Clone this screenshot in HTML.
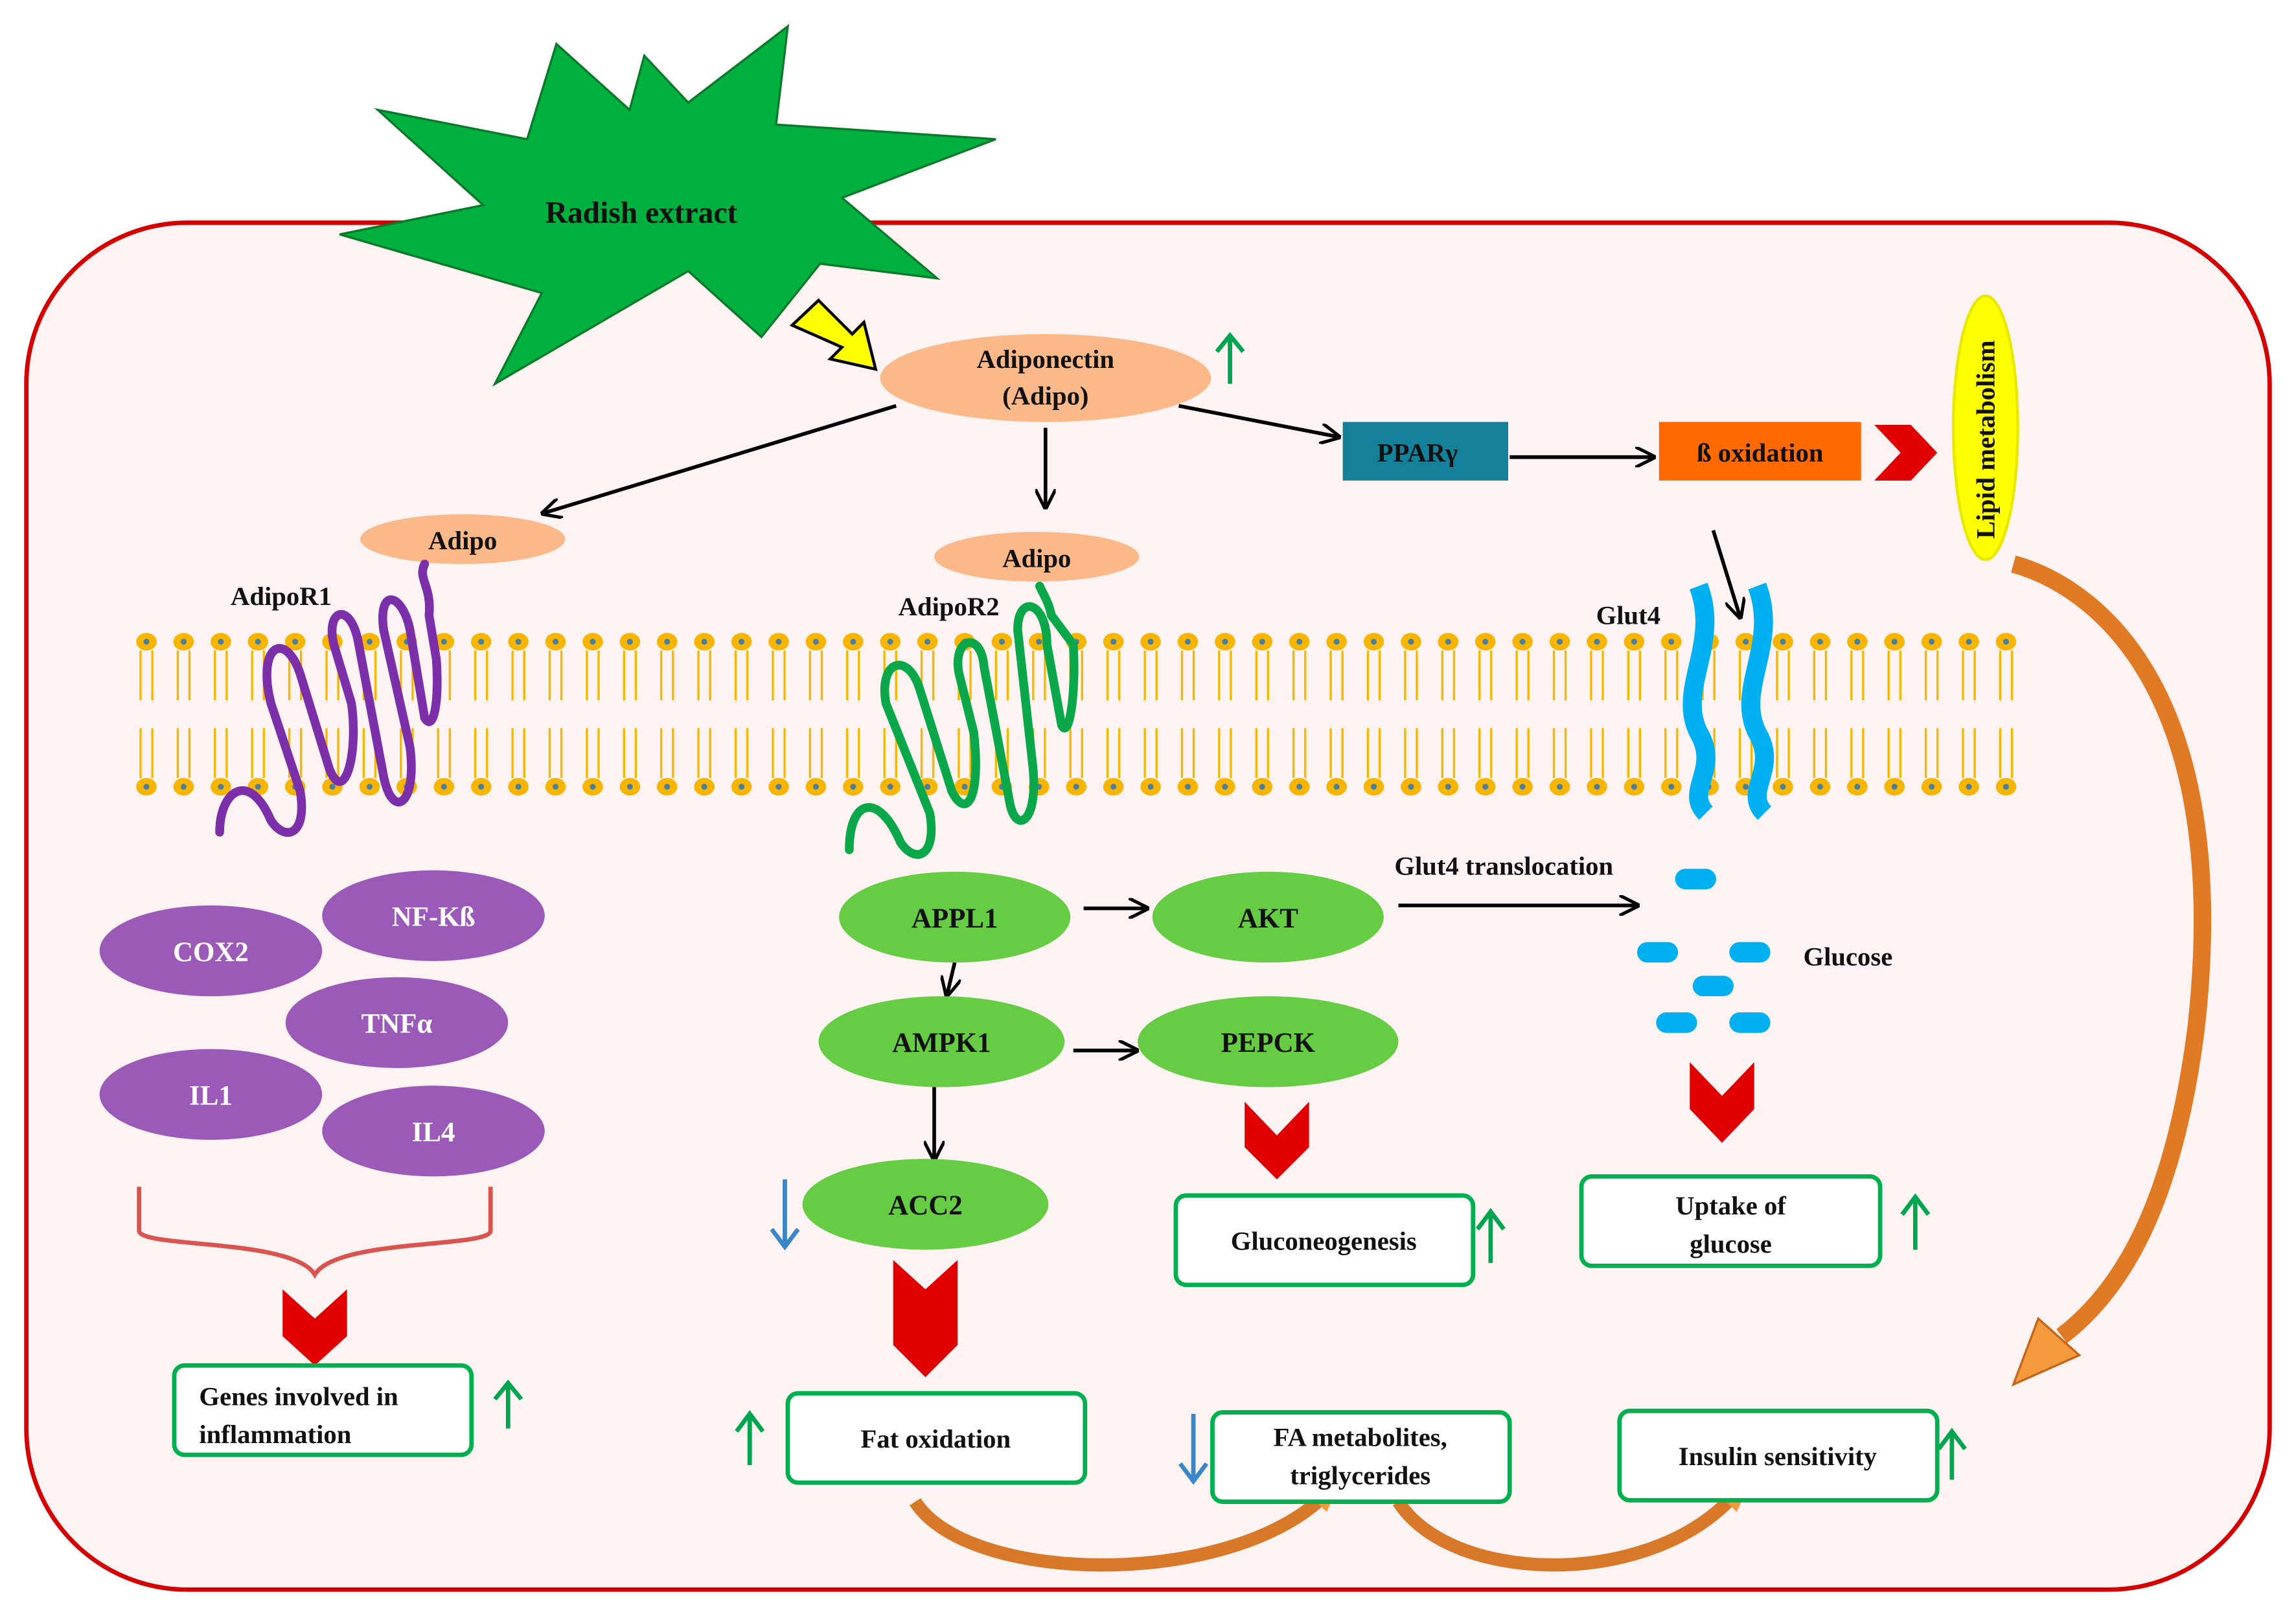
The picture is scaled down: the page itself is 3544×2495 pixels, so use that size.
<!DOCTYPE html>
<html><head><meta charset="utf-8"><style>
html,body{margin:0;padding:0;background:#fff}
svg{display:block}
text{font-family:"Liberation Serif",serif;font-weight:bold;fill:#111}
</style></head><body>
<svg id="s" width="3544" height="2495" viewBox="0 0 1568 1103" preserveAspectRatio="none" xmlns="http://www.w3.org/2000/svg">
<defs>
<marker id="ah2" viewBox="0 0 10 10" markerWidth="14" markerHeight="14" refX="8" refY="5" orient="auto" markerUnits="userSpaceOnUse"><path d="M0,0 L10,5 L0,10" fill="none" stroke="#000" stroke-width="1.6"/></marker>
</defs>
<rect x="18" y="152" width="1532" height="933" rx="110" fill="#fdf3f3" stroke="#d40000" stroke-width="3"/>
<polygon fill="#00b140" stroke="#0a7a2a" stroke-width="1.5" points="538,18 530,85 680,95 575,135 640,190 560,180 520,230 470,185 338,262 370,200 232,160 330,140 258,75 360,95 380,30 430,75 440,38 470,70"/>
<text x="438" y="152" font-size="21" text-anchor="middle">Radish extract</text>
<polygon points="541,222 559,205 582,228 590,220 598,252 567,245 575,237" fill="#ffff00" stroke="#000" stroke-width="2"/>
<ellipse cx="714" cy="258" rx="113" ry="30" fill="#fbb98a"/>
<text x="714" y="251" font-size="18" text-anchor="middle">Adiponectin</text>
<text x="714" y="276" font-size="18" text-anchor="middle">(Adipo)</text>
<g stroke="#000" stroke-width="2.5" fill="none">
<line x1="612" y1="277" x2="372" y2="350" marker-end="url(#ah2)"/>
<line x1="714" y1="292" x2="714" y2="345" marker-end="url(#ah2)"/>
<line x1="805" y1="277" x2="913" y2="298" marker-end="url(#ah2)"/>
<line x1="1031" y1="312" x2="1128" y2="312" marker-end="url(#ah2)"/>
<line x1="1170" y1="362" x2="1188" y2="420" marker-end="url(#ah2)"/>
<line x1="740" y1="620" x2="782" y2="620" marker-end="url(#ah2)"/>
<line x1="652" y1="657" x2="647" y2="678" marker-end="url(#ah2)"/>
<line x1="733" y1="717" x2="775" y2="717" marker-end="url(#ah2)"/>
<line x1="638" y1="742" x2="638" y2="790" marker-end="url(#ah2)"/>
<line x1="955" y1="618" x2="1117" y2="618" marker-end="url(#ah2)"/>
</g>
<rect x="917" y="288" width="113" height="40" fill="#15809a"/>
<text x="968" y="315" font-size="18" text-anchor="middle">PPARγ</text>
<rect x="1133" y="288" width="138" height="40" fill="#ff6a00"/>
<text x="1202" y="315" font-size="18" text-anchor="middle">ß oxidation</text>
<polygon points="1280,290 1305,290 1323,309 1305,328 1280,328 1298,309" fill="#e00000"/>
<ellipse cx="1356" cy="292" rx="22" ry="90" fill="#ffff00" stroke="#e8e800" stroke-width="2"/>
<text transform="translate(1362,300) rotate(-90)" font-size="18" text-anchor="middle">Lipid metabolism</text>
<path d="M1375,385 C1430,400 1525,470 1500,700 C1485,820 1450,880 1408,912" fill="none" stroke="#e07a25" stroke-width="12"/>
<polygon points="1375,945 1392,900 1420,925" fill="#f39a3c" stroke="#c5661a" stroke-width="1.5"/>
<g id="mem"></g>
<ellipse cx="316" cy="368" rx="70" ry="17" fill="#fbb98a"/>
<text x="316" y="375" font-size="18" text-anchor="middle">Adipo</text>
<ellipse cx="708" cy="380" rx="70" ry="17" fill="#fbb98a"/>
<text x="708" y="387" font-size="18" text-anchor="middle">Adipo</text>
<text x="192" y="413" font-size="18" text-anchor="middle">AdipoR1</text>
<text x="648" y="420" font-size="18" text-anchor="middle">AdipoR2</text>
<text x="1112" y="426" font-size="18" text-anchor="middle">Glut4</text>
<path d="M150,568 C150,540 170,525 185,560 C195,575 210,570 205,540 L185,480 C175,440 195,430 205,460 L225,525 C235,550 245,515 240,480 L228,440 C222,415 240,410 245,440 L262,530 C268,560 285,550 280,510 L262,430 C258,400 275,405 280,430 L290,490 C296,500 300,480 298,450 L293,420 C295,400 285,395 290,385" fill="none" stroke="#7b2fa8" stroke-width="6" stroke-linecap="round"/>
<path d="M580,580 C580,545 600,540 615,575 C625,590 640,585 635,555 L605,480 C600,450 620,445 628,470 L650,540 C660,560 670,545 665,500 L655,460 C650,435 670,430 672,455 L690,550 C695,570 710,560 705,520 L695,430 C695,405 715,410 715,440 L725,495 C730,505 735,475 733,440 L718,420 C716,410 712,405 710,400" fill="none" stroke="#0aa84a" stroke-width="6" stroke-linecap="round"/>
<path d="M1160,400 C1175,440 1145,470 1160,500 C1175,525 1150,540 1165,555" fill="none" stroke="#00b0f0" stroke-width="13"/>
<path d="M1200,400 C1215,440 1185,470 1200,500 C1215,525 1190,540 1205,555" fill="none" stroke="#00b0f0" stroke-width="13"/>
<g fill="#9b5ab8">
<ellipse cx="144" cy="649" rx="76" ry="31"/><ellipse cx="296" cy="625" rx="76" ry="31"/>
<ellipse cx="271" cy="698" rx="76" ry="31"/><ellipse cx="144" cy="747" rx="76" ry="31"/>
<ellipse cx="296" cy="772" rx="76" ry="31"/></g>
<g font-size="19" text-anchor="middle">
<text x="144" y="656" style="fill:#fff">COX2</text><text x="296" y="632" style="fill:#fff">NF-Kß</text>
<text x="271" y="705" style="fill:#fff">TNFα</text><text x="144" y="754" style="fill:#fff">IL1</text>
<text x="296" y="779" style="fill:#fff">IL4</text></g>
<path d="M95,810 L95,840 C95,852 200,845 215,870 C230,845 335,852 335,840 L335,810" fill="none" stroke="#d9534f" stroke-width="3"/>
<g fill="#66cc44">
<ellipse cx="652" cy="626" rx="79" ry="31"/><ellipse cx="866" cy="626" rx="79" ry="31"/>
<ellipse cx="643" cy="711" rx="84" ry="31"/><ellipse cx="866" cy="711" rx="89" ry="31"/>
<ellipse cx="632" cy="822" rx="84" ry="31"/></g>
<g font-size="19" text-anchor="middle">
<text x="652" y="633">APPL1</text><text x="866" y="633">AKT</text>
<text x="643" y="718">AMPK1</text><text x="866" y="718">PEPCK</text><text x="632" y="829">ACC2</text></g>
<text x="1027" y="597" font-size="18" text-anchor="middle">Glut4 translocation</text>
<text x="1262" y="659" font-size="18" text-anchor="middle">Glucose</text>
<g fill="#00b0f0">
<rect x="1144" y="593" width="28" height="14" rx="7"/><rect x="1118" y="643" width="28" height="14" rx="7"/>
<rect x="1181" y="643" width="28" height="14" rx="7"/><rect x="1156" y="666" width="28" height="14" rx="7"/>
<rect x="1131" y="691" width="28" height="14" rx="7"/><rect x="1181" y="691" width="28" height="14" rx="7"/></g>
<g fill="#e00000">
<polygon points="193,880 215,900 237,880 237,912 215,932 193,912"/>
<polygon points="850,752 872,775 894,752 894,783 872,805 850,783"/>
<polygon points="1154,725 1176,748 1198,725 1198,757 1176,780 1154,757"/>
<polygon points="610,860 632,880 654,860 654,918 632,940 610,918"/>
</g>
<!-- bottom orange arrows (behind boxes) -->
<path d="M625,1025 C660,1080 830,1085 900,1025" fill="none" stroke="#d8792a" stroke-width="9"/>
<polygon points="917,1008 906,1032 890,1016" fill="#f39a3c"/>
<path d="M955,1025 C990,1080 1120,1085 1180,1025" fill="none" stroke="#d8792a" stroke-width="9"/>
<polygon points="1197,1008 1186,1032 1170,1016" fill="#f39a3c"/>
<g fill="#fff" stroke="#00b050" stroke-width="3">
<rect x="119" y="932" width="203" height="61" rx="7"/>
<rect x="803" y="816" width="203" height="61" rx="7"/>
<rect x="1080" y="803" width="204" height="61" rx="7"/>
<rect x="538" y="951" width="203" height="61" rx="7"/>
<rect x="828" y="964" width="203" height="61" rx="7"/>
<rect x="1106" y="963" width="217" height="61" rx="7"/>
</g>
<g font-size="18">
<text x="136" y="959">Genes involved in</text><text x="136" y="985">inflammation</text>
<text x="904" y="853" text-anchor="middle">Gluconeogenesis</text>
<text x="1182" y="829" text-anchor="middle">Uptake of</text><text x="1182" y="855" text-anchor="middle">glucose</text>
<text x="639" y="988" text-anchor="middle">Fat oxidation</text>
<text x="929" y="987" text-anchor="middle">FA metabolites,</text><text x="929" y="1013" text-anchor="middle">triglycerides</text>
<text x="1214" y="1000" text-anchor="middle">Insulin sensitivity</text>
</g>
<g stroke-width="3" fill="none">
<g stroke="#00a550">
<path d="M840,262 V230 M831,240 L840,229 L849,240"/>
<path d="M347,975 V945 M338,955 L347,944 L356,955"/>
<path d="M1018,862 V828 M1009,839 L1018,827 L1027,839"/>
<path d="M1308,853 V818 M1299,829 L1308,817 L1317,829"/>
<path d="M512,1000 V966 M503,977 L512,965 L521,977"/>
<path d="M1333,1010 V978 M1324,989 L1333,977 L1342,989"/>
</g>
<g stroke="#3a86c8">
<path d="M536,805 V850 M527,839 L536,851 L545,839"/>
<path d="M815,965 V1010 M806,999 L815,1011 L824,999"/>
</g>
</g>
</svg>
<script>
var g=document.getElementById('mem'),h='';
for(var x=100;x<=1380;x+=25.4){
 h+='<line x1="'+(x-4)+'" y1="444" x2="'+(x-4)+'" y2="478" stroke="#f5b800" stroke-width="1.5"/>';
 h+='<line x1="'+(x+4)+'" y1="444" x2="'+(x+4)+'" y2="478" stroke="#f5b800" stroke-width="1.5"/>';
 h+='<line x1="'+(x-4)+'" y1="497" x2="'+(x-4)+'" y2="531" stroke="#f5b800" stroke-width="1.5"/>';
 h+='<line x1="'+(x+4)+'" y1="497" x2="'+(x+4)+'" y2="531" stroke="#f5b800" stroke-width="1.5"/>';
 h+='<ellipse cx="'+x+'" cy="438" rx="7" ry="6" fill="#f7b500"/><circle cx="'+x+'" cy="438" r="2" fill="#4a7fa0"/>';
 h+='<ellipse cx="'+x+'" cy="537" rx="7" ry="6" fill="#f7b500"/><circle cx="'+x+'" cy="537" r="2" fill="#4a7fa0"/>';
}
g.innerHTML=h;
</script>
</body></html>
